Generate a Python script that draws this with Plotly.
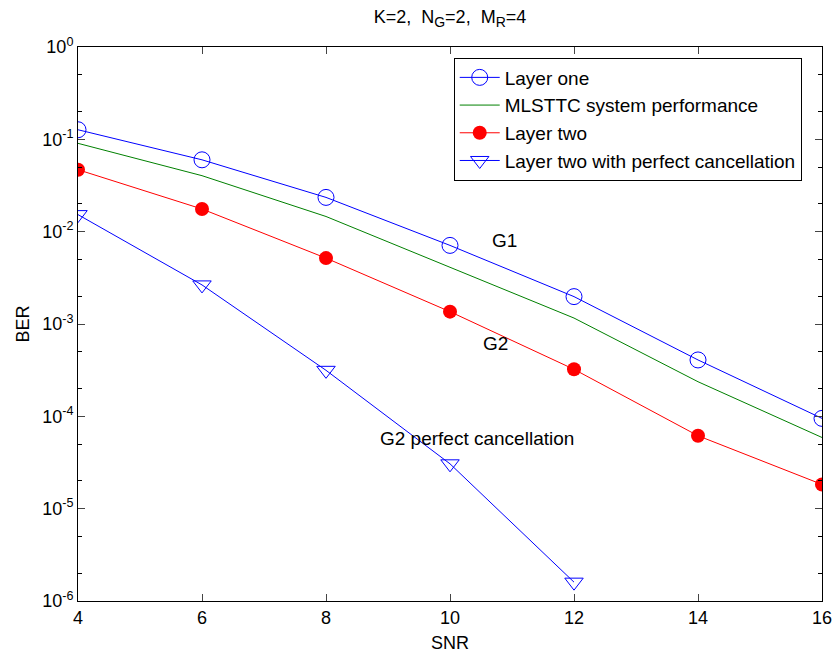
import plotly.graph_objects as go

snr = [4, 6, 8, 10, 12, 14, 16]
layer_one = [0.127, 0.060, 0.0235, 0.0071, 0.00198, 0.000408, 9.5e-5]
mlsttc = [0.0905, 0.0404, 0.0146, 0.00414, 0.00116, 0.000237, 5.9e-5]
layer_two = [0.0469, 0.0176, 0.00517, 0.00136, 0.000323, 6.16e-5, 1.83e-5]
snr_pc = [4, 6, 8, 10, 12]
layer_two_pc = [0.0153, 0.00265, 0.000315, 3.06e-5, 1.6e-6]

y_tickvals = [1e-6, 1e-5, 1e-4, 1e-3, 1e-2, 1e-1, 1]
y_ticktext = ["10<sup>-6</sup>", "10<sup>-5</sup>", "10<sup>-4</sup>", "10<sup>-3</sup>",
              "10<sup>-2</sup>", "10<sup>-1</sup>", "10<sup>0</sup>"]
x_tickvals = [4, 6, 8, 10, 12, 14, 16]

FONT = "Liberation Sans, Arial, sans-serif"
fs = 19
tfs = 18

fig = go.Figure()
fig.add_trace(go.Scatter(x=snr, y=layer_one, mode="lines+markers", name="Layer one",
                         line=dict(color="rgb(0,0,255)", width=1),
                         marker=dict(symbol="circle-open", size=16, color="rgb(0,0,255)",
                                     line=dict(width=1))))
fig.add_trace(go.Scatter(x=snr, y=mlsttc, mode="lines", name="MLSTTC system performance",
                         line=dict(color="rgb(0,128,0)", width=1)))
fig.add_trace(go.Scatter(x=snr, y=layer_two, mode="lines+markers", name="Layer two",
                         line=dict(color="rgb(255,0,0)", width=1),
                         marker=dict(symbol="circle", size=14, color="rgb(255,0,0)")))
fig.add_trace(go.Scatter(x=snr_pc, y=layer_two_pc, mode="lines+markers",
                         name="Layer two with perfect cancellation",
                         line=dict(color="rgb(0,0,255)", width=1),
                         marker=dict(symbol="triangle-down-open", size=16, color="rgb(0,0,255)",
                                     line=dict(width=1))))

fig.add_annotation(x=10.88, y=-2.095, xref="x", yref="y", text="G1", showarrow=False,
                   font=dict(size=fs, color="black", family=FONT))
fig.add_annotation(x=10.74, y=-3.215, xref="x", yref="y", text="G2", showarrow=False,
                   font=dict(size=fs, color="black", family=FONT))
fig.add_annotation(x=8.834, y=-4.235, xref="x", yref="y", text="G2 perfect cancellation",
                   showarrow=False, xanchor="left",
                   font=dict(size=fs, color="black", family=FONT))

title_text = ("K=2,&nbsp; N<sub><span style=\"font-size:14px\">G</span></sub>=2,&nbsp; "
              "M<sub><span style=\"font-size:14px\">R</span></sub>=4")

fig.update_layout(
    width=835, height=653,
    margin=dict(l=78, r=13, t=47, b=52, autoexpand=False),
    paper_bgcolor="white", plot_bgcolor="white",
    font=dict(family=FONT, size=tfs, color="black"),
    title=dict(text=title_text, x=0.5, xanchor="center",
               xref="paper", y=1 - 17 / 653, yanchor="middle", yref="container",
               font=dict(size=18, color="black", family=FONT)),
    showlegend=True,
    legend=dict(x=0.505, y=0.981, xanchor="left", yanchor="top",
                bgcolor="white", bordercolor="black", borderwidth=1,
                font=dict(size=fs, color="black", family=FONT),
                tracegroupgap=0, itemwidth=40),
)
fig.update_xaxes(range=[4, 16], tickvals=x_tickvals, ticks="inside", ticklen=7,
                 showline=True, linecolor="black", linewidth=1, mirror="ticks",
                 showgrid=False, zeroline=False,
                 title=dict(text="SNR", standoff=10, font=dict(size=tfs)),
                 tickfont=dict(size=tfs))
fig.update_yaxes(type="log", range=[-6, 0], tickvals=y_tickvals, ticktext=y_ticktext,
                 ticks="inside", ticklen=7,
                 minor=dict(ticks="inside", ticklen=4, tickcolor="black", showgrid=False),
                 showline=True, linecolor="black", linewidth=1, mirror="ticks",
                 showgrid=False, zeroline=False,
                 title=dict(text="BER", standoff=7, font=dict(size=tfs)),
                 tickfont=dict(size=tfs))

fig.write_html("out.html")
